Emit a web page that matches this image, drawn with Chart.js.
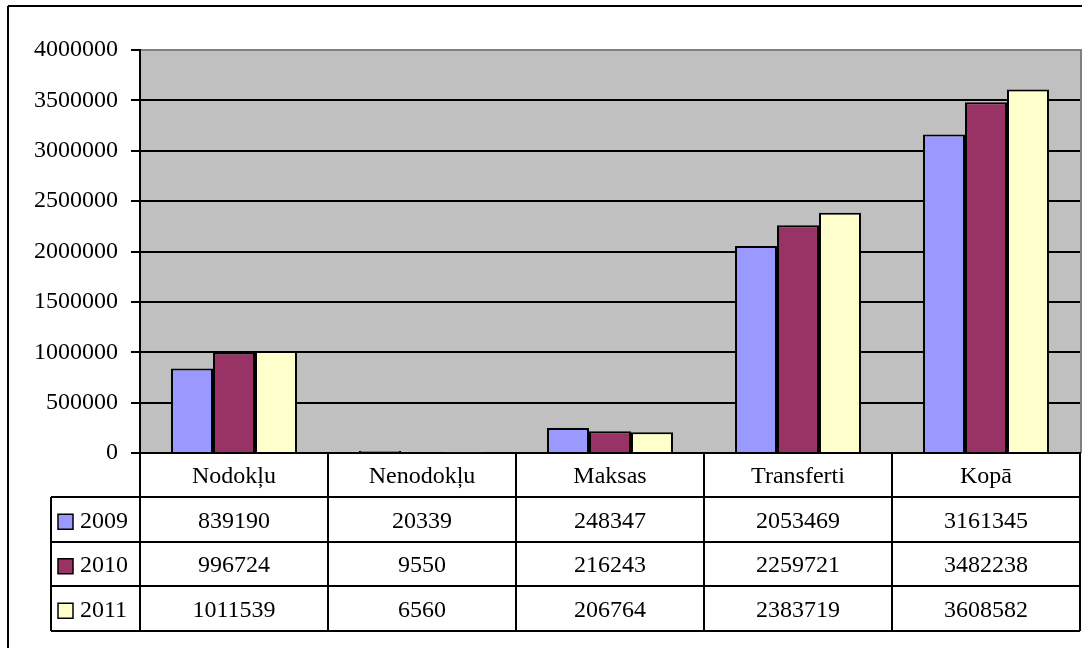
<!DOCTYPE html>
<html>
<head>
<meta charset="utf-8">
<script src="https://cdn.jsdelivr.net/npm/chart.js@4.4.0/dist/chart.umd.min.js"></script>
<style>
	html, body { margin: 0; padding: 0; background: #fff; }
	canvas { display: block; }
</style>
</head>
<body>
<canvas id="appBarChart" width="1090" height="648"></canvas>
<script>
// categories (header row of the table)
let categories = ['Nodokļu', 'Nenodokļu', 'Maksas', 'Transferti', 'Kopā'];

// series
let seriesNames  = ['2009', '2010', '2011'];
let seriesColors = ['#9999FF', '#993366', '#FFFFCC'];
let values2009 = [839190, 20339, 248347, 2053469, 3161345];
let values2010 = [996724, 9550, 216243, 2259721, 3482238];
let values2011 = [1011539, 6560, 206764, 2383719, 3608582];

// y axis ticks
let yMin  = 0;
let yMax  = 4000000;
let yStep = 500000;

let FONT = '"Liberation Serif", "Times New Roman", serif';

(function() {

	// table under the plot: row height and left edge of the legend column
	let ROW_H  = 44.5;
	let LEFT_X = 51;

	let _line = function(ctx, x1, y1, x2, y2) {
		ctx.beginPath();
		ctx.moveTo(x1, y1);
		ctx.lineTo(x2, y2);
		ctx.stroke();
	};

	// plot background + data table
	let tablePlugin = {
		id: 'dataTable',
		beforeDraw: function(chart) {
			let ctx = chart.ctx, a = chart.chartArea;
			ctx.save();
			ctx.fillStyle = '#FFFFFF';
			ctx.fillRect(0, 0, chart.width, chart.height);
			ctx.fillStyle = '#C0C0C0';
			ctx.fillRect(a.left, a.top, a.right - a.left, a.bottom - a.top);
			ctx.strokeStyle = '#808080';
			ctx.lineWidth = 2;
			ctx.beginPath();
			ctx.moveTo(a.left, a.top);
			ctx.lineTo(a.right + 1, a.top);
			ctx.lineTo(a.right + 1, a.bottom);
			ctx.stroke();
			ctx.restore();
		},
		afterDraw: function(chart) {
			let ctx = chart.ctx, a = chart.chartArea, xs = chart.scales.x;
			let headBottom = xs.bottom;
			let tableBottom = Math.round(headBottom + ROW_H * chart.data.datasets.length);
			let colW = (a.right - a.left) / categories.length;

			ctx.save();
			ctx.strokeStyle = '#000';
			ctx.lineWidth = 2;

			// outer chart frame (left and top only are visible)
			_line(ctx, 8, 6, 8, chart.height);
			_line(ctx, 8, 6, 1082, 6);

			// column separators
			for (let i = 0; i <= categories.length; i++) {
				let x = Math.round(a.left + i * colW);
				_line(ctx, x, a.bottom, x, tableBottom);
			}
			// row separators
			for (let r = 0; r <= chart.data.datasets.length; r++) {
				let y = Math.round(headBottom + r * ROW_H);
				_line(ctx, LEFT_X, y, a.right, y);
			}
			_line(ctx, LEFT_X, headBottom, LEFT_X, tableBottom);

			// legend keys + values
			ctx.font = '24px ' + FONT;
			ctx.fillStyle = '#000';
			ctx.textBaseline = 'middle';
			chart.data.datasets.forEach(function(ds, s) {
				let cy = headBottom + (s + 0.5) * ROW_H + 2;
				ctx.fillStyle = ds.backgroundColor;
				ctx.fillRect(58, cy - 7, 15, 15);
				ctx.lineWidth = 1.5;
				ctx.strokeRect(58, cy - 7, 15, 15);
				ctx.fillStyle = '#000';
				ctx.textAlign = 'left';
				ctx.fillText(ds.label, 80, cy);
				ctx.textAlign = 'center';
				ds.data.forEach(function(v, i) {
					ctx.fillText(String(v), xs.getPixelForValue(i), cy);
				});
			});
			ctx.restore();
		}
	};

	let seriesValues = [values2009, values2010, values2011];

	new Chart(document.getElementById('appBarChart'), {
		type: 'bar',
		data: {
			labels: categories,
			datasets: seriesNames.map(function(name, i) {
				return {
					label: name,
					data: seriesValues[i],
					backgroundColor: seriesColors[i],
					borderColor: '#000',
					borderWidth: 2,
					borderSkipped: 'bottom',
					categoryPercentage: 0.67,
					barPercentage: 1.0
				};
			})
		},
		options: {
			responsive: false,
			animation: false,
			layout: { padding: { left: 0, right: 10, top: 50, bottom: 151 } },
			plugins: {
				legend: { display: false },
				tooltip: { enabled: false }
			},
			scales: {
				x: {
					grid: { display: false },
					border: { display: true, color: '#000', width: 2 },
					ticks: {
						color: '#000',
						font: { family: FONT, size: 24 },
						padding: 1,
						maxRotation: 0,
						autoSkip: false
					},
					afterFit: function(scale) { scale.height = 44; }
				},
				y: {
					min: yMin,
					max: yMax,
					grid: {
						color: function(c) { return c.tick && c.tick.value === yMax ? '#808080' : '#000'; },
						tickColor: '#000',
						lineWidth: 2,
						tickLength: 9
					},
					border: { display: true, color: '#000', width: 2 },
					ticks: {
						stepSize: yStep,
						color: '#000',
						padding: 13,
						font: { family: FONT, size: 24 },
						callback: function(v) { return String(v); }
					},
					afterFit: function(scale) { scale.width = 140; }
				}
			}
		},
		plugins: [tablePlugin]
	});
})();
</script>
</body>
</html>
